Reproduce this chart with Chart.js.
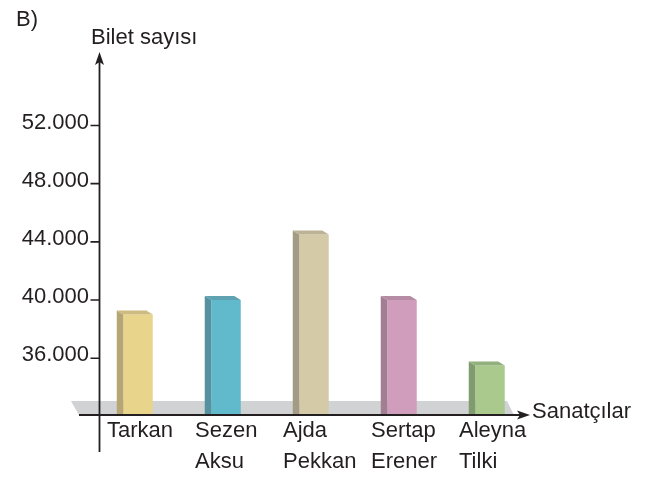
<!DOCTYPE html>
<html>
<head>
<meta charset="utf-8">
<script src="https://cdn.jsdelivr.net/npm/chart.js@4.4.0/dist/chart.umd.min.js"></script>
<style>
    html, body { margin: 0; padding: 0; background: #fff; }
</style>
</head>
<body>
<canvas id="biletChart" width="651" height="477"></canvas>
<script>
// DATA
const artists = ["Tarkan", ["Sezen", "Aksu"], ["Ajda", "Pekkan"], ["Sertap", "Erener"], ["Aleyna", "Tilki"]];
const ticketCounts = [39000, 40000, 44500, 40000, 35500];
const tickValues = [36000, 40000, 44000, 48000, 52000];
const tickLabels = ["36.000", "40.000", "44.000", "48.000", "52.000"];

// BAR COLORS (front / side / top)
const frontColors = ["#e8d48b", "#61b9cc", "#d4caa7", "#d19dbd", "#a9c98d"];
const sideColors = ["#b6a674", "#55919e", "#a39b84", "#a27e93", "#809c6f"];
const topColors = ["#cdbb80", "#5fa3b2", "#bcb396", "#b68ca5", "#92b07b"];

const textColor = "#231f20";

// floor, 3d bar sides, arrows and free texts
const sceneryPlugin = {
    id: "scenery",

    beforeDatasetsDraw(chart) {
        const { ctx, chartArea } = chart;
        const floorTop = chartArea.bottom - 14;

        ctx.save();
        ctx.fillStyle = "#d1d2d4";
        ctx.beginPath();
        ctx.moveTo(chartArea.left - 23, floorTop);
        ctx.lineTo(chartArea.right - 27, floorTop);
        ctx.lineTo(chartArea.right - 20, chartArea.bottom);
        ctx.lineTo(chartArea.left - 15, chartArea.bottom);
        ctx.closePath();
        ctx.fill();
        ctx.restore();
    },

    afterDatasetsDraw(chart) {
        const { ctx, chartArea } = chart;
        const meta = chart.getDatasetMeta(0);
        const dx = 6.5;
        const dy = 4;

        ctx.save();

        // side + top faces
        meta.data.forEach((bar, i) => {
            const left = bar.x - bar.width / 2;
            const right = bar.x + bar.width / 2;
            const base = Math.min(bar.base, chartArea.bottom);

            ctx.fillStyle = sideColors[i];
            ctx.beginPath();
            ctx.moveTo(left - dx, bar.y - dy);
            ctx.lineTo(left, bar.y);
            ctx.lineTo(left, base);
            ctx.lineTo(left - dx, base);
            ctx.closePath();
            ctx.fill();

            ctx.fillStyle = topColors[i];
            ctx.beginPath();
            ctx.moveTo(left - dx, bar.y - dy);
            ctx.lineTo(right - dx, bar.y - dy);
            ctx.lineTo(right, bar.y);
            ctx.lineTo(left, bar.y);
            ctx.closePath();
            ctx.fill();
        });

        // axes
        const ax = chartArea.left + 5.5;
        const ay = chartArea.bottom;

        ctx.strokeStyle = textColor;
        ctx.fillStyle = textColor;
        ctx.lineWidth = 1.8;

        ctx.beginPath();
        ctx.moveTo(ax, chartArea.top + 6);
        ctx.lineTo(ax, chartArea.bottom + 37);
        ctx.moveTo(chartArea.left - 15, ay);
        ctx.lineTo(chartArea.right - 10, ay);
        ctx.stroke();

        // y arrow
        ctx.beginPath();
        ctx.moveTo(ax, chartArea.top);
        ctx.lineTo(ax - 4.5, chartArea.top + 13);
        ctx.lineTo(ax, chartArea.top + 10);
        ctx.lineTo(ax + 4.5, chartArea.top + 13);
        ctx.closePath();
        ctx.fill();

        // x arrow
        const tipX = chartArea.right - 4;
        ctx.beginPath();
        ctx.moveTo(tipX, ay);
        ctx.lineTo(tipX - 13, ay - 4.5);
        ctx.lineTo(tipX - 10, ay);
        ctx.lineTo(tipX - 13, ay + 4.5);
        ctx.closePath();
        ctx.fill();

        // y tick marks
        const yScale = chart.scales.y;
        ctx.lineWidth = 1.6;
        ctx.beginPath();
        tickValues.forEach(v => {
            const py = yScale.getPixelForValue(v);
            ctx.moveTo(ax - 9, py);
            ctx.lineTo(ax, py);
        });
        ctx.stroke();

        // texts
        ctx.font = "22px 'Liberation Sans', Arial, sans-serif";
        ctx.textAlign = "left";
        ctx.textBaseline = "alphabetic";
        ctx.fillText("B)", 16, 26);
        ctx.fillText("Bilet sayısı", 91, 44);
        ctx.textBaseline = "middle";
        ctx.fillText("Sanatçılar", 532, ay - 3);

        ctx.restore();
    }
};

const ctx = document.getElementById("biletChart").getContext("2d");

new Chart(ctx, {
    type: "bar",

    data: {
        labels: artists,
        datasets: [{
            label: "Bilet sayısı",
            data: ticketCounts,
            backgroundColor: frontColors,
            borderWidth: 0,
            barPercentage: 0.335,
            categoryPercentage: 1
        }]
    },

    options: {
        responsive: false,
        animation: false,

        layout: {
            padding: { top: 52, right: 117, left: 0, bottom: 0 }
        },

        plugins: {
            legend: { display: false },
            tooltip: { enabled: false }
        },

        scales: {
            x: {
                grid: { display: false, drawTicks: false },
                border: { display: false },
                ticks: {
                    color: textColor,
                    padding: 0,
                    maxRotation: 0,
                    autoSkip: false,
                    align: "start",
                    labelOffset: -31,
                    font: { family: "'Liberation Sans', Arial, sans-serif", size: 22, lineHeight: "31px" }
                },
                afterFit(scale) {
                    scale.height = 62;
                }
            },

            y: {
                min: 32100,
                max: 57050,
                beginAtZero: false,
                grid: { display: false, drawTicks: false },
                border: { display: false },
                ticks: {
                    color: textColor,
                    padding: 5,
                    // second empty line lifts the label a little above its tick
                    font: { family: "'Liberation Sans', Arial, sans-serif", size: 22, lineHeight: "6px" },
                    callback: value => [tickLabels[tickValues.indexOf(value)], ""]
                },
                afterBuildTicks(scale) {
                    scale.ticks = tickValues.map(v => ({ value: v }));
                },
                afterFit(scale) {
                    scale.width = 94;
                }
            }
        }
    },

    plugins: [sceneryPlugin]
});
</script>
</body>
</html>
